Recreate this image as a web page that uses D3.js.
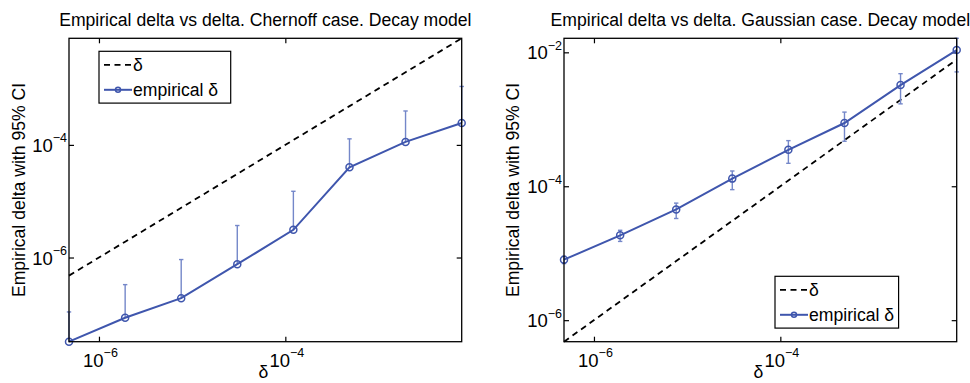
<!DOCTYPE html>
<html>
<head>
<meta charset="utf-8">
<script src="https://cdn.jsdelivr.net/npm/d3@7"></script>
<style>
  body { margin: 0; background: #fff; }
  svg { display: block; }
  text { font-family: "Liberation Sans", Arial, Helvetica, sans-serif; fill: #000; }
</style>
</head>
<body>
<svg></svg>
<script>
var width = 970;
var height = 383;

// delta values (x), shared by both panels
var deltas = [4.77e-7, 1.91e-6, 7.63e-6, 3.05e-5, 1.22e-4, 4.88e-4, 1.95e-3, 7.81e-3];

// Chernoff case
var chernoffEmp   = [3.2e-8, 8.5e-8, 1.9e-7, 7.6e-7, 3.1e-6, 4.0e-5, 1.13e-4, 2.45e-4];
var chernoffUpper = [1.08e-7, 3.3e-7, 9.2e-7, 3.7e-6, 1.5e-5, 1.28e-4, 4.0e-4, 1.09e-3];
var chernoffLower = [0, 0, 0, 0, 0, 0, 0, 0]; // lower CI not positive -> not shown on log axis

// Gaussian case
var gaussEmp   = [8.0e-6, 1.85e-5, 4.5e-5, 1.3e-4, 3.5e-4, 8.8e-4, 3.24e-3, 1.08e-2];
var gaussUpper = [9.0e-6, 2.2e-5, 5.6e-5, 1.69e-4, 4.8e-4, 1.28e-3, 4.8e-3, 1.62e-2];
var gaussLower = [7.0e-6, 1.5e-5, 3.3e-5, 8.9e-5, 2.2e-4, 4.7e-4, 1.7e-3, 5.1e-3];

var xTicks = [1e-6, 1e-4];
var chernoffYTicks = [1e-6, 1e-4];
var gaussYTicks = [1e-6, 1e-4, 1e-2];

var titles = [
  "Empirical delta vs delta. Chernoff case. Decay model",
  "Empirical delta vs delta. Gaussian case. Decay model"
];
var yLabel = "Empirical delta with 95% CI";
var legendLabels = ["\u03b4", "empirical \u03b4"];

var blue = "#3f56ad";
var barBlue = "#7487c9";
var fs = "17.6px";

var svg = d3.select("svg")
    .attr("width", width)
    .attr("height", height);

var panels = [
  { left: 69, emp: chernoffEmp, upper: chernoffUpper, lower: chernoffLower, yTicks: chernoffYTicks,
    yDomain: [d3.min(chernoffEmp), d3.max(deltas)], legend: { x: 30, y: 13 }, yLabelX: 25 },
  { left: 564, emp: gaussEmp, upper: gaussUpper, lower: gaussLower, yTicks: gaussYTicks,
    yDomain: [d3.min(deltas), d3.max(gaussUpper)], legend: { x: 211, y: 238 }, yLabelX: 519 }
];

var pw = 392.7, ph = 303.4, plotTop = 38.3;

panels.forEach(function(p, i) {
  var x = d3.scaleLog().domain(d3.extent(deltas)).range([0, pw]);
  var y = d3.scaleLog().domain(p.yDomain).range([ph, 0]);

  var g = svg.append("g").attr("transform", `translate(${p.left}, ${plotTop})`);

  // title
  svg.append("text")
      .attr("x", p.left + pw / 2)
      .attr("y", 26)
      .attr("text-anchor", "middle")
      .style("font-size", fs)
      .text(titles[i]);

  // inward ticks on all four sides
  g.append("g").attr("transform", `translate(0, ${ph})`)
      .call(d3.axisBottom(x).tickValues(xTicks).tickSizeInner(-5).tickSizeOuter(0).tickFormat(""));
  g.append("g")
      .call(d3.axisTop(x).tickValues(xTicks).tickSizeInner(-5).tickSizeOuter(0).tickFormat(""));
  g.append("g")
      .call(d3.axisLeft(y).tickValues(p.yTicks).tickSizeInner(-5).tickSizeOuter(0).tickFormat(""));
  g.append("g").attr("transform", `translate(${pw}, 0)`)
      .call(d3.axisRight(y).tickValues(p.yTicks).tickSizeInner(-5).tickSizeOuter(0).tickFormat(""));
  g.selectAll(".domain").remove();
  g.selectAll(".tick line").attr("stroke", "#000").attr("stroke-width", 1.2);

  // x tick labels
  xTicks.forEach(function(t) {
    var lab = g.append("text")
        .attr("x", x(t) + 1.5)
        .attr("y", ph + 25)
        .attr("text-anchor", "middle")
        .style("font-size", "18.5px");
    lab.append("tspan").text("10");
    lab.append("tspan").attr("dy", -9.5).style("font-size", "12.5px").text("\u2212" + Math.round(-Math.log10(t)));
  });

  // y tick labels
  p.yTicks.forEach(function(t) {
    var lab = g.append("text")
        .attr("x", -2)
        .attr("y", y(t) + 7)
        .attr("text-anchor", "end")
        .style("font-size", "18.5px");
    lab.append("tspan").text("10");
    lab.append("tspan").attr("dy", -9.5).style("font-size", "12.5px").text("\u2212" + Math.round(-Math.log10(t)));
  });

  // axis titles
  g.append("text")
      .attr("x", pw / 2 - 2)
      .attr("y", height - plotTop - 4.5)
      .attr("text-anchor", "middle")
      .style("font-size", fs)
      .text("\u03b4");
  g.append("text")
      .attr("transform", `translate(${p.yLabelX - p.left}, ${ph / 2}) rotate(-90)`)
      .attr("text-anchor", "middle")
      .style("font-size", fs)
      .text(yLabel);

  // delta reference line
  g.append("path")
      .datum(deltas)
      .attr("fill", "none")
      .attr("stroke", "#000")
      .attr("stroke-width", 1.8)
      .attr("stroke-dasharray", "6,4.5")
      .attr("d", d3.line().x(d => x(d)).y(d => y(d)));

  // error bars
  var rows = deltas.map((d, k) => ({ d: d, v: p.emp[k], hi: p.upper[k], lo: p.lower[k] }));
  var bars = g.append("g").attr("stroke", barBlue).attr("stroke-width", 1.4);
  rows.forEach(function(r) {
    var yLo = r.lo > 0 ? y(r.lo) : y(r.v);
    bars.append("line").attr("x1", x(r.d)).attr("x2", x(r.d)).attr("y1", y(r.hi)).attr("y2", yLo);
    bars.append("line").attr("x1", x(r.d) - 2.2).attr("x2", x(r.d) + 2.2).attr("y1", y(r.hi)).attr("y2", y(r.hi));
    if (r.lo > 0) {
      bars.append("line").attr("x1", x(r.d) - 2.2).attr("x2", x(r.d) + 2.2).attr("y1", y(r.lo)).attr("y2", y(r.lo));
    }
  });

  // empirical line + markers
  g.append("path")
      .datum(rows)
      .attr("fill", "none")
      .attr("stroke", blue)
      .attr("stroke-width", 2)
      .attr("d", d3.line().x(d => x(d.d)).y(d => y(d.v)));
  g.selectAll(".mk")
      .data(rows)
      .enter()
      .append("circle")
        .attr("cx", d => x(d.d))
        .attr("cy", d => y(d.v))
        .attr("r", 3.5)
        .attr("fill", "none")
        .attr("stroke", blue)
        .attr("stroke-width", 1.5);

  // box
  g.append("rect")
      .attr("width", pw).attr("height", ph)
      .attr("fill", "none").attr("stroke", "#000").attr("stroke-width", 1.3);

  // legend
  var lg = g.append("g").attr("transform", `translate(${p.legend.x}, ${p.legend.y})`);
  var lw = i ? 123.6 : 131.7, lh = 51.8;
  lg.append("rect").attr("width", lw).attr("height", lh)
      .attr("fill", "#fff").attr("stroke", "#000").attr("stroke-width", 1.2);
  lg.append("line").attr("x1", 5).attr("x2", 33).attr("y1", 13.5).attr("y2", 13.5)
      .attr("stroke", "#000").attr("stroke-width", 1.8).attr("stroke-dasharray", "6,4.5");
  lg.append("line").attr("x1", 5).attr("x2", 33).attr("y1", 38.5).attr("y2", 38.5)
      .attr("stroke", blue).attr("stroke-width", 2);
  lg.append("circle").attr("cx", 19).attr("cy", 38.5).attr("r", 2.5)
      .attr("fill", "none").attr("stroke", blue).attr("stroke-width", 1.5);
  legendLabels.forEach(function(t, k) {
    lg.append("text")
        .attr("x", 34)
        .attr("y", 19.5 + k * 25)
        .style("font-size", fs)
        .text(t);
  });
});
</script>
</body>
</html>
